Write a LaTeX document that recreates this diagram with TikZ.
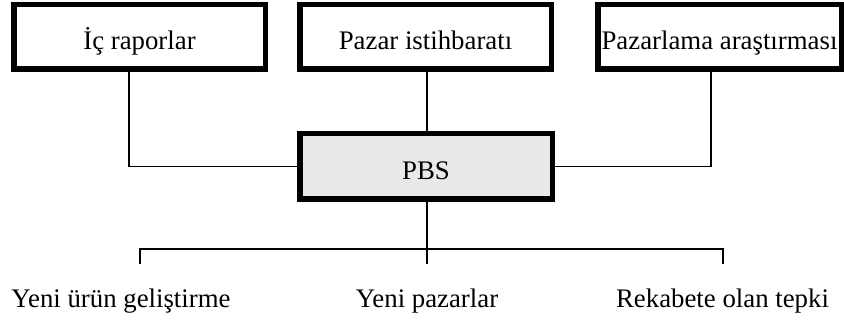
\documentclass[tikz,border=0pt]{standalone}
\usepackage{fontspec}
\setmainfont{Liberation Serif}
\definecolor{pbsgray}{HTML}{E8E8E8}
\begin{document}
\begin{tikzpicture}[x=1pt,y=-1pt,
  every node/.style={font=\fontsize{26.8}{30}\selectfont},
  topbox/.style={draw=black, line width=5.5pt, fill=white, inner sep=0pt,
    minimum height=64.5pt, text height=26pt, text depth=0pt},
  pbsbox/.style={topbox, fill=pbsgray, minimum height=65.5pt, text height=27pt},
  conn/.style={draw=black, line width=1.4pt},
  outlabel/.style={anchor=base, inner sep=0pt}]
\useasboundingbox (0,0) rectangle (844,320);
\node[topbox, minimum width=251.5pt] (b1) at (139.5,37) {İç raporlar};
\node[topbox, minimum width=251.5pt] (b2) at (425.5,37) {Pazar istihbaratı};
\node[topbox, minimum width=243.5pt] (b3) at (719.5,37) {Pazarlama araştırması};
\node[pbsbox, minimum width=252.5pt] (pbs) at (426,166.5) {PBS};
\coordinate (k1) at (129,0);
\coordinate (k2) at (427,0);
\coordinate (k3) at (711,0);
\draw[conn] (b1.south -| k1) |- (pbs.west);
\draw[conn] (b2.south -| k2) -- (pbs.north -| k2);
\draw[conn] (b3.south -| k3) |- (pbs.east);
\coordinate (tl) at (140,249);
\coordinate (tr) at (723,249);
\coordinate (tlb) at (140,264);
\coordinate (tmb) at (427,264);
\coordinate (trb) at (723,264);
\draw[conn] (pbs.south -| k2) -- (tmb);
\draw[conn] (tlb) -- (tl) -- (tr) -- (trb);
\node[outlabel] (l1) at (121,308) {Yeni ürün geliştirme};
\node[outlabel] (l2) at (427,308) {Yeni pazarlar};
\node[outlabel] (l3) at (722.5,308) {Rekabete olan tepki};
\end{tikzpicture}
\end{document}
